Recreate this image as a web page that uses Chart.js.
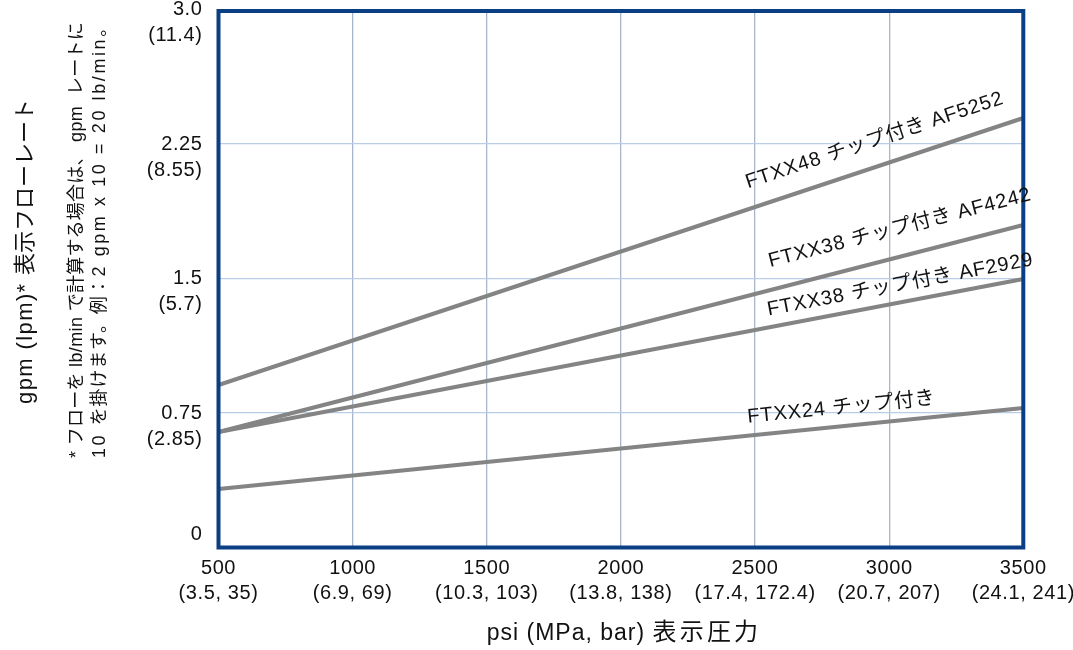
<!DOCTYPE html>
<html><head><meta charset="utf-8">
<script src="https://cdn.jsdelivr.net/npm/chart.js@4"></script>
<style>html,body{margin:0;padding:0;background:#fff;}#wrap{width:1073px;height:650px;position:relative;}</style>
</head><body><div id="wrap"><canvas id="c"></canvas></div>
<script>
// ---- data ----
const pressurePsi = [500, 3500];
const flowAF5252 = [0.906, 2.395];
const flowAF4242 = [0.644, 1.798];
const flowAF2929 = [0.644, 1.497];
const flowFTXX24 = [0.326, 0.778];
const seriesNames = ['FTXX48 チップ付き AF5252', 'FTXX38 チップ付き AF4242', 'FTXX38 チップ付き AF2929', 'FTXX24 チップ付き'];
const xTickValues = [500, 1000, 1500, 2000, 2500, 3000, 3500];
const xTickMetric = ['(3.5, 35)', '(6.9, 69)', '(10.3, 103)', '(13.8, 138)', '(17.4, 172.4)', '(20.7, 207)', '(24.1, 241)'];
const yTickValues = [0, 0.75, 1.5, 2.25, 3];
const yTickGpm = ['0', '0.75', '1.5', '2.25', '3.0'];
const yTickLpm = ['', '(2.85)', '(5.7)', '(8.55)', '(11.4)'];
const xTitle = 'psi (MPa, bar) 表示圧力';
const yTitle = 'gpm (lpm)* 表示フローレート';
const footnote = ['* フローを lb/min で計算する場合は、 gpm  レートに', '10 を掛けます。例：2 gpm x 10 = 20 lb/min。'];

// ---- helpers ----
const LATIN = '"Liberation Sans", Arial, Helvetica, sans-serif';
const CJK = '"Noto Sans CJK JP", "Noto Sans CJK SC", sans-serif';
const cjkRe = /[\u3000-\u30ff\u3400-\u9fff\uff00-\uffef]/;
function splitRuns(text) {
  const runs = [];
  for (const ch of text) {
    const c = cjkRe.test(ch);
    if (runs.length && runs[runs.length - 1].c === c) runs[runs.length - 1].t += ch;
    else runs.push({ t: ch, c });
  }
  return runs;
}
function drawMixed(ctx, text, x, y, o) {
  const runs = splitRuns(text);
  let total = 0;
  for (const r of runs) {
    ctx.font = r.c ? `${o.cjk}px ${CJK}` : `${o.latin}px ${LATIN}`;
    ctx.letterSpacing = (r.c ? o.cs : o.ls) + 'px';
    r.w = ctx.measureText(r.t).width;
    total += r.w;
  }
  let cur = o.align === 'center' ? x - total / 2 : x;
  ctx.textAlign = 'left';
  ctx.textBaseline = 'alphabetic';
  for (const r of runs) {
    ctx.font = r.c ? `${o.cjk}px ${CJK}` : `${o.latin}px ${LATIN}`;
    ctx.letterSpacing = (r.c ? o.cs : o.ls) + 'px';
    ctx.fillText(r.t, cur, y);
    cur += r.w;
  }
  ctx.letterSpacing = '0px';
}

const TEXT = '#111111';
const labelPlace = [
  { psi: 2474, lift: 21 },
  { psi: 2557, lift: 23 },
  { psi: 2550, lift: 12 },
  { psi: 2474, lift: 13 }
];
const footnoteStyle = [
  { latin: 18, cjk: 18, ls: 0.4, cs: 0.2 },
  { latin: 18, cjk: 18, ls: 2.6, cs: 0.8 }
];

const decor = {
  id: 'decor',
  beforeDraw(chart) { chart.ctx.letterSpacing = '0.6px'; },
  afterDatasetsDraw(chart) {
    const { ctx, chartArea: a } = chart;
    ctx.save();
    ctx.letterSpacing = '0px';
    ctx.strokeStyle = '#0b3f83';
    ctx.lineWidth = 4;
    ctx.strokeRect(a.left, a.top + 1.5, a.right - a.left, a.bottom - a.top - 1.5);
    ctx.restore();
  },
  afterDraw(chart) {
    const { ctx } = chart;
    const xs = chart.scales.x;
    ctx.save();
    ctx.fillStyle = TEXT;
    // x title
    drawMixed(ctx, xTitle, 624, 640, { latin: 23, cjk: 24, ls: 1.0, cs: 3.2, align: 'center' });
    // y title
    ctx.save();
    ctx.translate(32, 404);
    ctx.rotate(-Math.PI / 2);
    drawMixed(ctx, yTitle, 0, 0, { latin: 22, cjk: 22, ls: 1.4, cs: 0, align: 'left' });
    ctx.restore();
    // footnote
    const fnBase = [82, 105];
    footnote.forEach((line, i) => {
      ctx.save();
      ctx.translate(fnBase[i], 458);
      ctx.rotate(-Math.PI / 2);
      drawMixed(ctx, line, 0, 0, { ...footnoteStyle[i], align: 'left' });
      ctx.restore();
    });
    // line labels
    seriesNames.forEach((name, i) => {
      const meta = chart.getDatasetMeta(i);
      const p0 = meta.data[0], p1 = meta.data[meta.data.length - 1];
      const x = xs.getPixelForValue(labelPlace[i].psi);
      const t = (x - p0.x) / (p1.x - p0.x);
      const y = p0.y + t * (p1.y - p0.y) - labelPlace[i].lift;
      const ang = Math.atan2(p1.y - p0.y, p1.x - p0.x);
      ctx.save();
      ctx.translate(x, y);
      ctx.rotate(ang);
      drawMixed(ctx, name, 0, 0, { latin: 20, cjk: 20, ls: 0.9, cs: 0.7, align: 'left' });
      ctx.restore();
    });
    ctx.restore();
  }
};

const mk = (d) => pressurePsi.map((p, i) => ({ x: p, y: d[i] }));
const lineStyle = { borderColor: '#848484', borderWidth: 4, pointRadius: 0, fill: false, tension: 0 };

new Chart(document.getElementById('c'), {
  type: 'line',
  data: {
    datasets: [
      { label: seriesNames[0], data: mk(flowAF5252), ...lineStyle },
      { label: seriesNames[1], data: mk(flowAF4242), ...lineStyle },
      { label: seriesNames[2], data: mk(flowAF2929), ...lineStyle },
      { label: seriesNames[3], data: mk(flowFTXX24), ...lineStyle }
    ]
  },
  options: {
    responsive: true,
    maintainAspectRatio: false,
    animation: false,
    devicePixelRatio: 1,
    layout: { padding: { left: 0, right: 49.7, top: 9.5, bottom: 0 } },
    plugins: { legend: { display: false }, tooltip: { enabled: false } },
    scales: {
      x: {
        type: 'linear', min: 500, max: 3500,
        afterBuildTicks: (s) => { s.ticks = xTickValues.map(v => ({ value: v })); },
        afterFit: (s) => { s.height = 102.5; s.paddingLeft = 0; s.paddingRight = 0; },
        ticks: {
          autoSkip: false, maxRotation: 0, padding: 8, color: TEXT,
          font: { family: LATIN, size: 20, lineHeight: 1.27 },
          callback: (v) => { const i = xTickValues.indexOf(v); return [String(v), xTickMetric[i]]; }
        },
        grid: { color: '#a9b5cc', lineWidth: 1.3, drawTicks: false },
        border: { display: false }
      },
      y: {
        type: 'linear', min: 0, max: 3,
        afterBuildTicks: (s) => { s.ticks = yTickValues.map(v => ({ value: v })); },
        afterFit: (s) => { s.width = 218.5; s.paddingTop = 0; s.paddingBottom = 0; },
        ticks: {
          autoSkip: false, padding: 16, color: TEXT,
          font: { family: LATIN, size: 20, lineHeight: 1.3 },
          callback: (v) => {
            const i = yTickValues.indexOf(v);
            return i === 0 ? ['0', ''] : ['', yTickGpm[i], yTickLpm[i]];
          }
        },
        grid: { color: '#b9cde8', lineWidth: 1.2, drawTicks: false },
        border: { display: false }
      }
    }
  },
  plugins: [decor]
});
</script></body></html>
